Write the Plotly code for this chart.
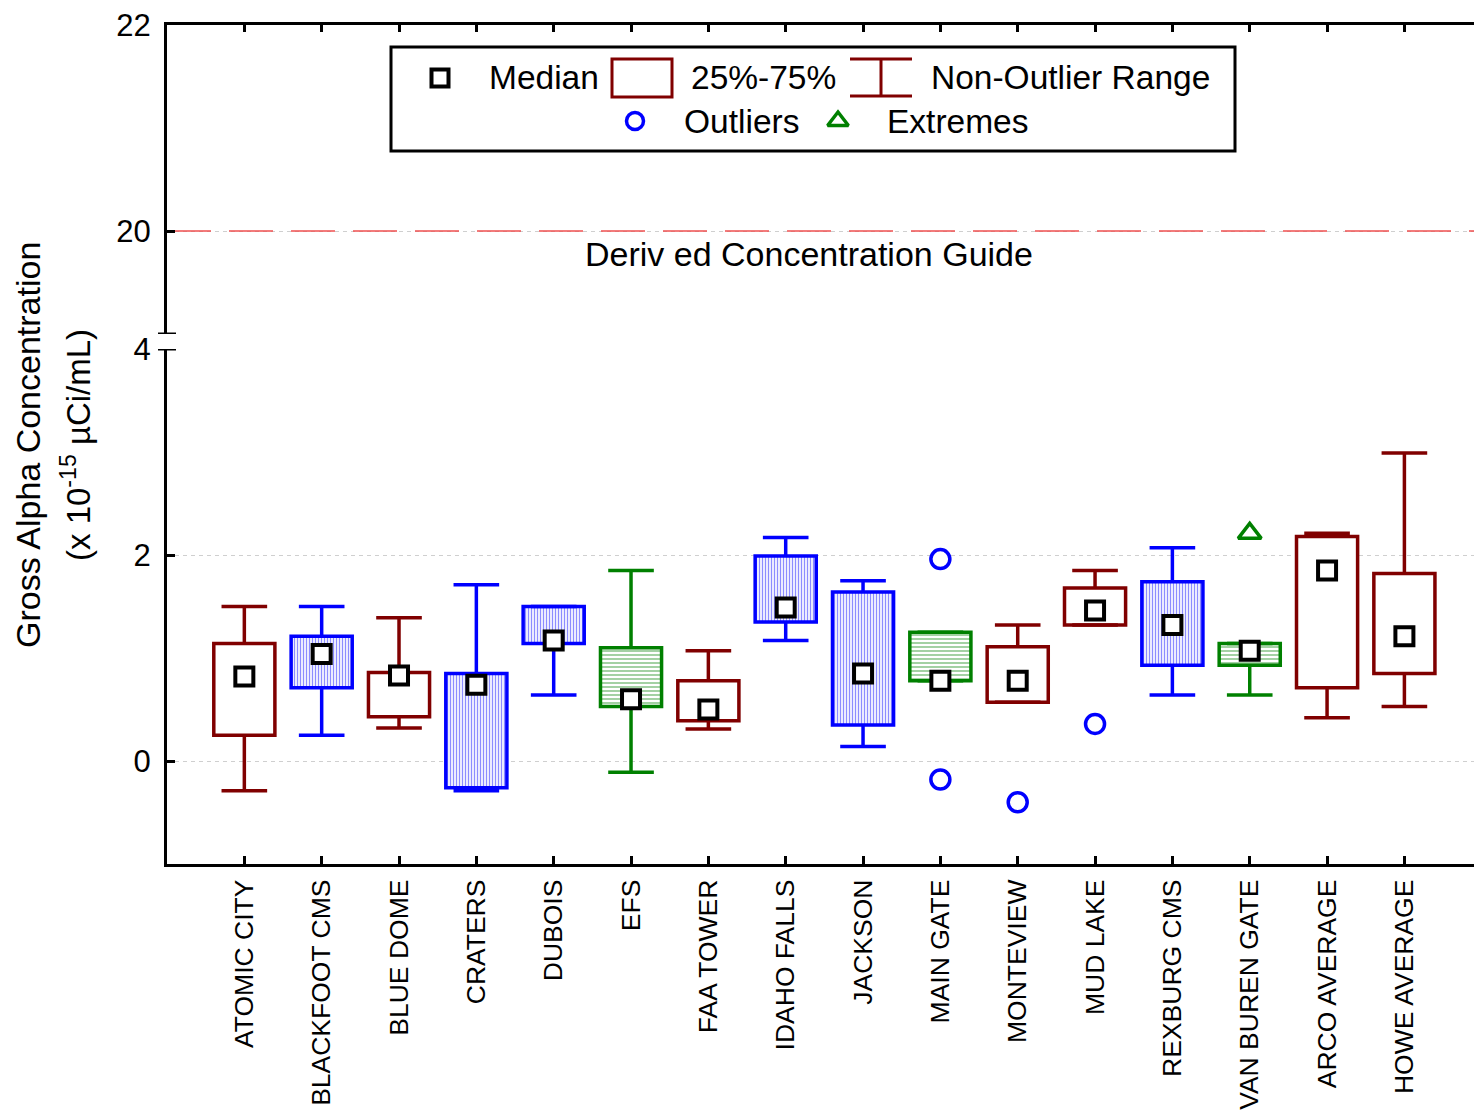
import plotly.graph_objects as go

# ---------------- data ----------------
categories = ["ATOMIC CITY", "BLACKFOOT CMS", "BLUE DOME", "CRATERS", "DUBOIS", "EFS",
              "FAA TOWER", "IDAHO FALLS", "JACKSON", "MAIN GATE", "MONTEVIEW", "MUD LAKE",
              "REXBURG CMS", "VAN BUREN GATE", "ARCO AVERAGE", "HOWE AVERAGE"]
medians = [0.82, 1.04, 0.83, 0.74, 1.17, 0.60, 0.50, 1.49, 0.85, 0.78, 0.78, 1.46, 1.32, 1.07, 1.85, 1.21]
q1 = [0.25, 0.71, 0.43, -0.26, 1.14, 0.53, 0.39, 1.35, 0.35, 0.78, 0.57, 1.32, 0.93, 0.93, 0.71, 0.85]
q3 = [1.14, 1.21, 0.86, 0.85, 1.50, 1.10, 0.78, 1.99, 1.64, 1.25, 1.11, 1.68, 1.74, 1.14, 2.18, 1.82]
whisker_low = [-0.29, 0.25, 0.32, -0.29, 0.64, -0.11, 0.31, 1.17, 0.14, 0.78, 0.57, 1.32, 0.64, 0.64, 0.42, 0.53]
whisker_high = [1.50, 1.50, 1.39, 1.71, 1.50, 1.85, 1.07, 2.17, 1.75, 1.25, 1.32, 1.85, 2.07, 1.14, 2.21, 2.99]
styles = ["red", "blue", "red", "blue", "blue", "green", "red", "blue", "blue", "green",
          "red", "red", "blue", "green", "red", "red"]
outlier_sites = ["MAIN GATE", "MAIN GATE", "MONTEVIEW", "MUD LAKE"]
outlier_values = [1.96, -0.18, -0.40, 0.36]
extreme_sites = ["VAN BUREN GATE"]
extreme_values = [2.21]
dcg_value = 20
y_lower_ticks = [0, 2, 4]
y_upper_ticks = [20, 22]

# ---------------- style ----------------
FONT = "Liberation Sans, Arial, sans-serif"
COL = {"red": "#800000", "blue": "#0000ff", "green": "#008000"}
PATTERN = {
    "red": None,
    "blue": dict(shape="|", fgcolor="#8c8cff", bgcolor="#ffffff", size=3, solidity=0.45),
    "green": dict(shape="-", fgcolor="#66b366", bgcolor="#ffffff", size=4, solidity=0.3),
}
W, H = 1474, 1111
ML, MT, MB = 167, 25, 247
PW = W - ML
PH = H - MT - MB
XR = [-1, 15.9]
BOX_W = 0.79
CAP_W = 0.59

def px_x(px):
    return (px - ML) / PW

def px_y(py):
    return (H - MB - py) / PH

def dat_x(px):
    return XR[0] + (px - ML) / PW * (XR[1] - XR[0])

def dat_y2(py):
    return 22 - (py - 25) / 103.0

xs = list(range(len(categories)))
fig = go.Figure()

# whiskers
for st in ["red", "blue", "green"]:
    wx, wy = [], []
    for i in xs:
        if styles[i] != st:
            continue
        wx += [i, i, None, i, i, None,
               i - CAP_W / 2, i + CAP_W / 2, None, i - CAP_W / 2, i + CAP_W / 2, None]
        wy += [q3[i], whisker_high[i], None, q1[i], whisker_low[i], None,
               whisker_high[i], whisker_high[i], None, whisker_low[i], whisker_low[i], None]
    fig.add_trace(go.Scatter(x=wx, y=wy, mode="lines", line=dict(color=COL[st], width=3.5),
                             hoverinfo="skip", showlegend=False, xaxis="x", yaxis="y"))

# boxes
for st in ["red", "blue", "green"]:
    idx = [i for i in xs if styles[i] == st]
    marker = dict(color="#ffffff", line=dict(color=COL[st], width=3.5))
    if PATTERN[st]:
        marker["pattern"] = dict(fillmode="replace", **PATTERN[st])
    fig.add_trace(go.Bar(x=idx, y=[q3[i] - q1[i] for i in idx], base=[q1[i] for i in idx],
                         width=BOX_W, marker=marker, showlegend=False, xaxis="x", yaxis="y"))

# medians
fig.add_trace(go.Scatter(x=xs, y=medians, mode="markers",
                         marker=dict(symbol="square", size=18, color="#ffffff",
                                     line=dict(color="#000000", width=4)),
                         showlegend=False, xaxis="x", yaxis="y"))
# outliers
fig.add_trace(go.Scatter(x=[categories.index(s) for s in outlier_sites], y=outlier_values,
                         mode="markers",
                         marker=dict(symbol="circle", size=19, color="#ffffff",
                                     line=dict(color="#0000ff", width=3.5)),
                         showlegend=False, xaxis="x", yaxis="y"))
# extremes
fig.add_trace(go.Scatter(x=[categories.index(s) for s in extreme_sites], y=extreme_values,
                         mode="markers",
                         marker=dict(symbol="triangle-up", size=20, color="#ffffff",
                                     line=dict(color="#008000", width=3.5)),
                         showlegend=False, xaxis="x", yaxis="y"))

# DCG line
fig.add_trace(go.Scatter(x=XR, y=[dcg_value, dcg_value], mode="lines",
                         line=dict(color="#f05050", width=1.5, dash="44px,18px"),
                         hoverinfo="skip", showlegend=False, xaxis="x2", yaxis="y2"))

# legend symbols (markers)
fig.add_trace(go.Scatter(x=[dat_x(440)], y=[dat_y2(78)], mode="markers",
                         marker=dict(symbol="square", size=17, color="#ffffff",
                                     line=dict(color="#000000", width=4)),
                         showlegend=False, xaxis="x2", yaxis="y2", cliponaxis=False))
fig.add_trace(go.Scatter(x=[dat_x(635)], y=[dat_y2(121)], mode="markers",
                         marker=dict(symbol="circle", size=17, color="#ffffff",
                                     line=dict(color="#0000ff", width=3.5)),
                         showlegend=False, xaxis="x2", yaxis="y2", cliponaxis=False))
fig.add_trace(go.Scatter(x=[dat_x(838)], y=[dat_y2(121)], mode="markers",
                         marker=dict(symbol="triangle-up", size=18, color="#ffffff",
                                     line=dict(color="#008000", width=3.5)),
                         showlegend=False, xaxis="x2", yaxis="y2", cliponaxis=False))

shapes = []
# legend frame
shapes.append(dict(type="rect", xref="paper", yref="paper", x0=px_x(391), x1=px_x(1235),
                   y0=px_y(151), y1=px_y(47), line=dict(color="#000000", width=3),
                   fillcolor="#ffffff", layer="below"))
# legend box symbol
shapes.append(dict(type="rect", xref="paper", yref="paper", x0=px_x(612), x1=px_x(672),
                   y0=px_y(97), y1=px_y(59), line=dict(color="#800000", width=3)))
# legend whisker symbol
for (a, b, c, d) in [(850, 59, 912, 59), (850, 96, 912, 96), (881, 59, 881, 96)]:
    shapes.append(dict(type="line", xref="paper", yref="paper", x0=px_x(a), x1=px_x(c),
                       y0=px_y(b), y1=px_y(d), line=dict(color="#800000", width=3)))
# axis break marks
shapes.append(dict(type="line", xref="paper", yref="y", x0=-9 / PW, x1=9 / PW, y0=4, y1=4,
                   line=dict(color="#000000", width=3)))
shapes.append(dict(type="line", xref="paper", yref="y2", x0=-9 / PW, x1=9 / PW, y0=19, y1=19,
                   line=dict(color="#000000", width=3)))

annotations = []
for txt, xpx, ypx in [("Median", 487, 78), ("25%-75%", 689, 78), ("Non-Outlier Range", 929, 78),
                      ("Outliers", 682, 121), ("Extremes", 885, 121)]:
    annotations.append(dict(text=txt, xref="paper", yref="paper", x=px_x(xpx), y=px_y(ypx),
                            xanchor="left", yanchor="middle", showarrow=False,
                            font=dict(family=FONT, size=33.5, color="#000000")))
annotations.append(dict(text="Deriv ed Concentration Guide", xref="paper", yref="paper",
                        x=px_x(809), y=px_y(254), xanchor="center", yanchor="middle",
                        showarrow=False, font=dict(family=FONT, size=34, color="#000000")))
annotations.append(dict(text="Gross Alpha Concentration", xref="paper", yref="paper",
                        x=px_x(28), y=px_y(445), xanchor="center", yanchor="middle",
                        textangle=-90, showarrow=False,
                        font=dict(family=FONT, size=34, color="#000000")))
annotations.append(dict(text="(x 10<sup>-15</sup> \u00b5Ci/mL)", xref="paper", yref="paper",
                        x=px_x(76), y=px_y(445), xanchor="center", yanchor="middle",
                        textangle=-90, showarrow=False,
                        font=dict(family=FONT, size=33, color="#000000")))

low_top = (H - MB - 349) / PH
up_bot = (H - MB - 334) / PH

fig.update_layout(
    width=W, height=H, template="none",
    margin=dict(l=ML, r=0, t=MT, b=MB, pad=0),
    paper_bgcolor="#ffffff", plot_bgcolor="rgba(0,0,0,0)",
    barmode="overlay", showlegend=False,
    font=dict(family=FONT, color="#000000"),
    shapes=shapes, annotations=annotations,
    xaxis=dict(domain=[0, 1], anchor="y", range=XR, tickvals=xs, ticktext=categories,
               tickangle=-90, ticks="inside", ticklen=8, tickwidth=3, tickcolor="#000000",
               showline=True, linewidth=3, linecolor="#000000", showgrid=False, zeroline=False,
               tickfont=dict(family=FONT, size=26.5, color="#000000"), ticklabelstandoff=2,
               automargin=False),
    yaxis=dict(domain=[0, low_top], anchor="x", range=[-1, 4], tickvals=y_lower_ticks,
               ticks="inside", ticklen=8, tickwidth=3, tickcolor="#000000",
               showline=True, linewidth=3, linecolor="#000000",
               showgrid=True, gridcolor="#cfcfcf", gridwidth=1, griddash="4px,4px",
               zeroline=False, tickfont=dict(family=FONT, size=31, color="#000000"),
               ticklabelstandoff=7, automargin=False),
    xaxis2=dict(domain=[0, 1], anchor="y2", matches="x", range=XR, side="top", tickvals=xs,
                showticklabels=False, ticks="inside", ticklen=7, tickwidth=3,
                tickcolor="#000000", showline=True, linewidth=3, linecolor="#000000",
                showgrid=False, zeroline=False, automargin=False),
    yaxis2=dict(domain=[up_bot, 1], anchor="x2", range=[19, 22], tickvals=y_upper_ticks,
                ticks="inside", ticklen=8, tickwidth=3, tickcolor="#000000",
                showline=True, linewidth=3, linecolor="#000000",
                showgrid=True, gridcolor="#cfcfcf", gridwidth=1, griddash="4px,4px",
                zeroline=False, tickfont=dict(family=FONT, size=31, color="#000000"),
                ticklabelstandoff=7, automargin=False),
)

fig.write_html("out.html")
